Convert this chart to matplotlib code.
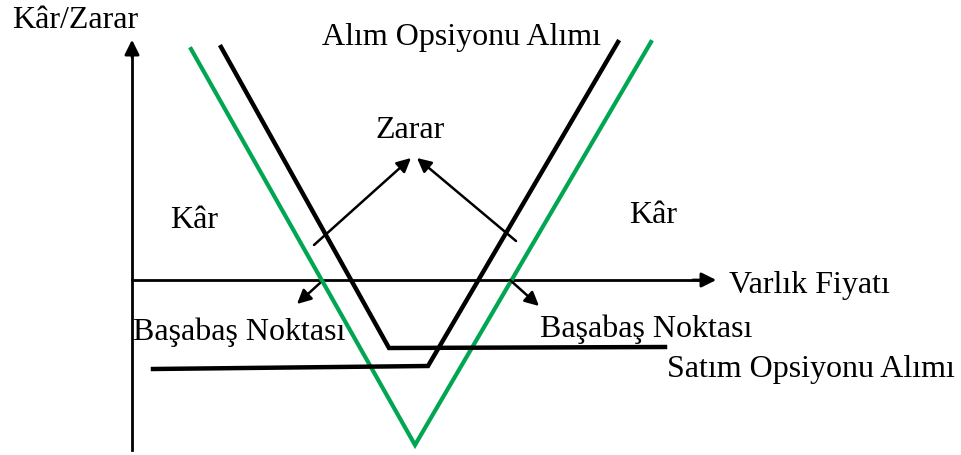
import matplotlib
matplotlib.use("Agg")
import matplotlib.pyplot as plt

# ---- diagram geometry (pixel space of the 962x455 canvas, y downwards) ----
green_x = [191, 415, 651]
green_y = [49, 445, 42]

put_x = [221, 389, 665]          # Satım Opsiyonu Alımı
put_y = [47, 348, 347]

call_x = [153, 428, 618]         # Alım Opsiyonu Alımı
call_y = [369, 366, 42]

GREEN = "#00a651"
INK = "black"
FONT = "Liberation Serif"

fig = plt.figure(figsize=(9.62, 4.55), dpi=100)
ax = fig.add_axes([0, 0, 1, 1])
ax.set_xlim(0, 962)
ax.set_ylim(455, 0)
ax.axis("off")

# ---- axes arrows ----
ax.plot([132, 132], [450, 48], color=INK, lw=2)
ax.annotate("", xy=(132, 37), xytext=(132, 60),
            arrowprops=dict(arrowstyle="-|>", color=INK, lw=2, mutation_scale=22))
ax.plot([132, 705], [280, 280], color=INK, lw=2)
ax.annotate("", xy=(719, 280), xytext=(690, 280),
            arrowprops=dict(arrowstyle="-|>", color=INK, lw=2, mutation_scale=22))

# ---- payoff lines ----
ax.plot(green_x, green_y, color=GREEN, lw=3, solid_joinstyle="miter")
ax.plot(put_x, put_y, color=INK, lw=3.2, solid_joinstyle="miter")
ax.plot(call_x, call_y, color=INK, lw=3.2, solid_joinstyle="miter")


def arrow(x1, y1, x2, y2):
    ax.annotate("", xy=(x2, y2), xytext=(x1, y1),
                arrowprops=dict(arrowstyle="-|>", color=INK, lw=1.8,
                                mutation_scale=21, shrinkA=0, shrinkB=0))


arrow(314, 245, 411, 158)   # Zarar
arrow(516, 241, 417, 158)
arrow(320, 283, 297, 304)   # left break-even
arrow(510, 280, 539, 306)   # right break-even

# ---- labels ----
fs = 23
txt = dict(fontsize=fs, family=FONT, color=INK, va="baseline")
ax.text(12, 28, "Kâr/Zarar", ha="left", **txt)
ax.text(322, 45, "Alım Opsiyonu Alımı", ha="left", **txt)
ax.text(410, 138, "Zarar", ha="center", **txt)
ax.text(194, 228, "Kâr", ha="center", **txt)
ax.text(653, 223, "Kâr", ha="center", **txt)
ax.text(729, 293, "Varlık Fiyatı", ha="left", **txt)
ax.text(133, 340, "Başabaş Noktası", ha="left", **txt)
ax.text(540, 337, "Başabaş Noktası", ha="left", **txt)
ax.text(667, 377, "Satım Opsiyonu Alımı", ha="left", **txt)

fig.savefig("out.png", dpi=100, facecolor="white")
